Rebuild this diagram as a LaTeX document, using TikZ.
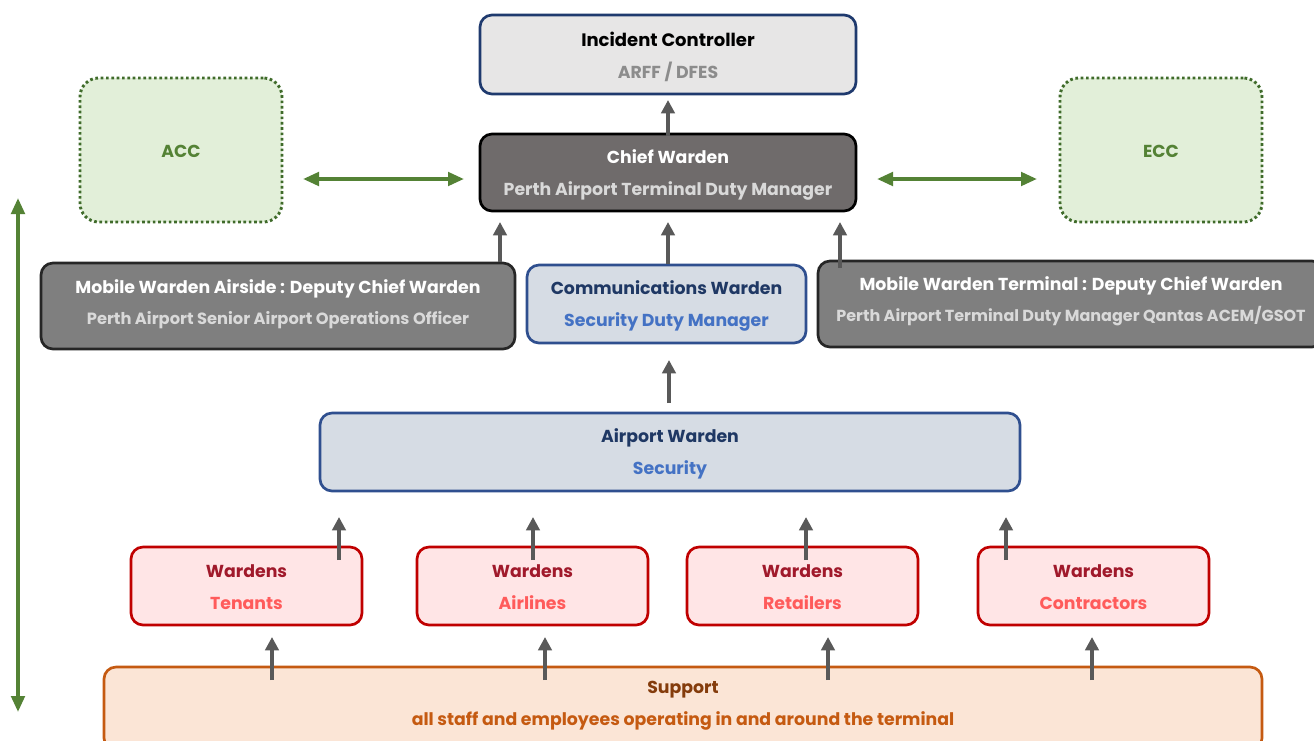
\documentclass[tikz,border=0pt]{standalone}
\usepackage{fontspec}
\setmainfont{Poppins}
\usetikzlibrary{fit,arrows.meta}
\definecolor{icfill}{HTML}{E7E6E6}
\definecolor{icline}{HTML}{1F3A6E}
\definecolor{cwfill}{HTML}{6F6B6B}
\definecolor{mwfill}{HTML}{7F7F7F}
\definecolor{subgray}{HTML}{D9D9D9}
\definecolor{grayt}{HTML}{8C8C8C}
\definecolor{grfill}{HTML}{E2EFD9}
\definecolor{grline}{HTML}{3F6B2A}
\definecolor{grtext}{HTML}{548235}
\definecolor{blfill}{HTML}{D6DCE4}
\definecolor{blline}{HTML}{2F4F8F}
\definecolor{bltitle}{HTML}{1F3864}
\definecolor{blsub}{HTML}{4472C4}
\definecolor{rdfill}{HTML}{FFE5E6}
\definecolor{rdline}{HTML}{C00000}
\definecolor{rdtitle}{HTML}{A0192B}
\definecolor{rdsub}{HTML}{FF5B5B}
\definecolor{orfill}{HTML}{FBE5D6}
\definecolor{orline}{HTML}{C55A11}
\definecolor{ortitle}{HTML}{843C0C}
\definecolor{arrgray}{HTML}{595959}
\definecolor{arrgreen}{HTML}{548235}
\tikzset{
  x=0.75pt, y=-0.75pt,
  box/.style={inner sep=0pt, rounded corners=9pt, line width=2pt},
  lbl/.style={align=center, inner sep=0pt, font=\fontsize{13}{24}\selectfont\bfseries},
  mlbl/.style={align=center, inner sep=0pt, font=\fontsize{13}{23}\selectfont\bfseries},
  icbox/.style={box, draw=icline, fill=icfill},
  cwbox/.style={box, draw=black, fill=cwfill},
  mwbox/.style={box, draw=black!85, fill=mwfill},
  gbox/.style={box, draw=grline, fill=grfill, line width=2.2pt, dash pattern=on 2pt off 2pt, rounded corners=14pt},
  bbox/.style={box, draw=blline, fill=blfill},
  rbox/.style={box, draw=rdline, fill=rdfill},
  obox/.style={box, draw=orline, fill=orfill},
  uparr/.style={draw=arrgray, line width=3pt, -{Triangle[length=10pt,width=10pt]}},
  grarr/.style={draw=arrgreen, line width=2.8pt, {Triangle[length=12pt,width=10pt]}-{Triangle[length=12pt,width=10pt]}},
}
\begin{document}
\begin{tikzpicture}
\useasboundingbox[fill=white] (0,0) rectangle (1314,740);

% nodes
\node[icbox, fit={(480,15) (856,94)}] (ic) {};
\node at ([yshift=-1.5pt]ic.center) [lbl] (ict) {\color{black}\fontsize{13.5}{24}\selectfont Incident Controller\\\color{grayt}ARFF / DFES};

\node[cwbox, fit={(480,134) (856,211)}] (cw) {};
\node at ([yshift=-1.5pt]cw.center) [lbl] (cwt) {\color{white}Chief Warden\\\color{subgray}Perth Airport Terminal Duty Manager};

\node[gbox, fit={(80,78) (282,222)}] (acc) {};
\node at (181,151) [lbl, text=grtext] (acct) {ACC};
\node[gbox, fit={(1060,78) (1262,222)}] (ecc) {};
\node at (1161,151) [lbl, text=grtext] (ecct) {ECC};

\node[mwbox, fit={(41,263) (515,349)}] (mwa) {};
\node at (278,304) [mlbl] (mwat) {\color{white}Mobile Warden Airside : Deputy Chief Warden\\\color{subgray}\fontsize{12.2}{23}\selectfont Perth Airport Senior Airport Operations Officer};

\node[bbox, fit={(527,265) (806,343)}] (com) {};
\node at ([yshift=-1.5pt]com.center) [lbl] (comt) {\color{bltitle}Communications Warden\\\color{blsub}Security Duty Manager};

\node[mwbox, fit={(818,261) (1324,347)}] (mwt) {};
\node at (1071,301) [mlbl] (mwtt) {\color{white}Mobile Warden Terminal : Deputy Chief Warden\\\color{subgray}\fontsize{12}{23}\selectfont Perth Airport Terminal Duty Manager Qantas ACEM/GSOT};

\node[bbox, fit={(320,413) (1020,491)}] (aw) {};
\node at ([yshift=-1.5pt]aw.center) [lbl] (awt) {\color{bltitle}Airport Warden\\\color{blsub}Security};

\node[rbox, fit={(131,547) (362,625)}] (wt) {};
\node at ([yshift=-1pt]wt.center) [lbl] (wtt) {\color{rdtitle}Wardens\\\color{rdsub}Tenants};
\node[rbox, fit={(417,547) (648,625)}] (wa) {};
\node at ([yshift=-1pt]wa.center) [lbl] (wat) {\color{rdtitle}Wardens\\\color{rdsub}Airlines};
\node[rbox, fit={(687,547) (918,625)}] (wr) {};
\node at ([yshift=-1pt]wr.center) [lbl] (wrt) {\color{rdtitle}Wardens\\\color{rdsub}Retailers};
\node[rbox, fit={(978,547) (1209,625)}] (wc) {};
\node at ([yshift=-1pt]wc.center) [lbl] (wct) {\color{rdtitle}Wardens\\\color{rdsub}Contractors};

\node[obox, fit={(104,667) (1262,750)}] (sup) {};
\node at (683,706) [lbl] (supt) {\color{ortitle}Support\\\color{orline}all staff and employees operating in and around the terminal};

% arrow end coordinates
\coordinate (a1s) at (668,136); \coordinate (a1e) at (668,100);
\coordinate (a2s) at (500,262); \coordinate (a2e) at (500,222);
\coordinate (a3s) at (668,264); \coordinate (a3e) at (668,222);
\coordinate (a4s) at (840,268); \coordinate (a4e) at (840,222);
\coordinate (a5s) at (669,403); \coordinate (a5e) at (669,360);
\foreach \n/\x in {t/339,a/533,r/806,c/1006}{
  \coordinate (u\n s) at (\x,560); \coordinate (u\n e) at (\x,517);
}
\foreach \n/\x in {t/272,a/545,r/828,c/1092}{
  \coordinate (d\n s) at (\x,680); \coordinate (d\n e) at (\x,637);
}
\coordinate (g1a) at (303,179); \coordinate (g1b) at (464,179);
\coordinate (g2a) at (877,179); \coordinate (g2b) at (1037,179);
\coordinate (g3a) at (18,198); \coordinate (g3b) at (18,712);

\draw[uparr] (a1s) -- (a1e);
\draw[uparr] (a2s) -- (a2e);
\draw[uparr] (a3s) -- (a3e);
\draw[uparr] (a4s) -- (a4e);
\draw[uparr] (a5s) -- (a5e);
\foreach \n in {t,a,r,c}{
  \draw[uparr] (u\n s) -- (u\n e);
  \draw[uparr] (d\n s) -- (d\n e);
}
\draw[grarr] (g1a) -- (g1b);
\draw[grarr] (g2a) -- (g2b);
\draw[grarr] (g3a) -- (g3b);
\end{tikzpicture}
\end{document}
